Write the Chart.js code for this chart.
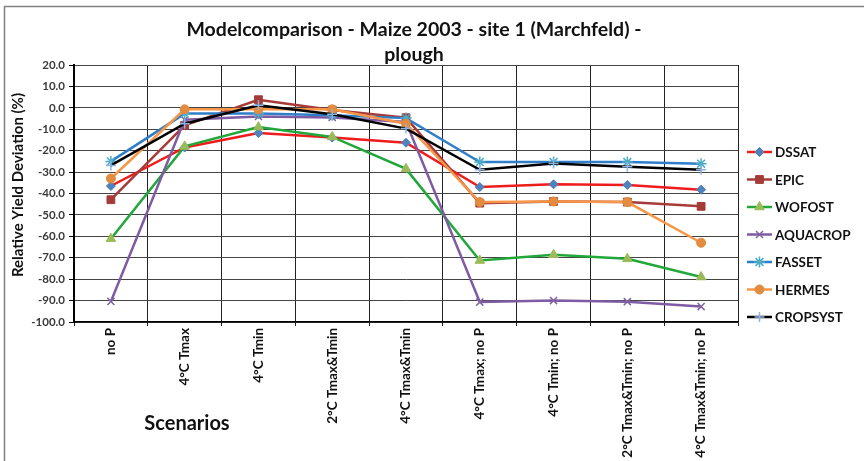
<!DOCTYPE html>
<html>
<head>
<meta charset="utf-8">
<script src="https://cdn.jsdelivr.net/npm/chart.js@4.4.1/dist/chart.umd.min.js"></script>
<style>
  body { margin: 0; background: #fff; }
  #wrap { width: 864px; height: 461px; }
</style>
</head>
<body>
<div id="wrap"><canvas id="myChart" width="864" height="461"></canvas></div>
<script>
// scenarios on the x axis
var scenarios = ["no P", "4°C Tmax", "4°C Tmin", "2°C Tmax&Tmin", "4°C Tmax&Tmin",
  "4°C Tmax; no P", "4°C Tmin; no P", "2°C Tmax&Tmin; no P", "4°C Tmax&Tmin; no P"];

// relative yield deviation (%) per model
var dssat    = [-36.5, -18.5, -11.8, -13.9, -16.3, -37.0, -35.7, -36.0, -38.2];
var epic     = [-42.9, -8.2, 3.8, -1.0, -4.6, -44.5, -43.7, -44.0, -46.0];
var wofost   = [-61.1, -18.0, -9.0, -13.6, -28.5, -71.3, -68.6, -70.5, -79.0];
var aquacrop = [-90.4, -5.6, -4.0, -4.5, -6.6, -90.7, -90.0, -90.5, -92.8];
var fasset   = [-25.0, -2.7, -2.7, -3.5, -4.8, -25.3, -25.3, -25.3, -26.1];
var hermes   = [-33.0, -0.7, -0.7, -0.7, -7.4, -44.0, -43.7, -44.0, -63.0];
var cropsyst = [-26.9, -7.4, 1.2, -3.0, -9.7, -28.9, -26.0, -27.5, -28.9];

var yTicks = { min: -100, max: 20, step: 10 };

var FONT = "Lato, 'Liberation Sans', sans-serif";

function series(label, values, line, marker, style, radius) {
  return {
    label: label,
    data: values,
    borderColor: line,
    backgroundColor: marker,
    borderWidth: 2.5,
    pointStyle: style,
    pointRadius: radius,
    pointBorderColor: marker,
    pointBackgroundColor: marker,
    pointBorderWidth: (style === 'crossRot' || style === 'cross' || style === 'star') ? 1.5 : 1,
    tension: 0
  };
}

var datasets = [
  series("DSSAT", dssat, "#ee1c1c", "#4f81bd", "rectRot", 4.5),
  series("EPIC", epic, "#a63c3a", "#a33b38", "rect", 5.5),
  series("WOFOST", wofost, "#22a83a", "#9bbb59", "triangle", 5.5),
  series("AQUACROP", aquacrop, "#7f5ba3", "#8064a2", "crossRot", 5),
  series("FASSET", fasset, "#2f7ec9", "#4bacc6", "star", 5.5),
  series("HERMES", hermes, "#f79646", "#e38b3e", "circle", 4.5),
  series("CROPSYST", cropsyst, "#000000", "#8eb4e3", "cross", 5)
];
// later series on top, like the original
datasets.forEach(function (d, i) { d.order = datasets.length - i; });

var decorations = {
  id: 'decorations',
  beforeDraw: function (chart) {
    var ctx = chart.ctx;
    ctx.save();
    ctx.fillStyle = "#ffffff";
    ctx.fillRect(0, 0, chart.width, chart.height);
    ctx.strokeStyle = "#7f7f7f";
    ctx.lineWidth = 1.5;
    ctx.beginPath();
    ctx.moveTo(4.5, chart.height);
    ctx.lineTo(4.5, 6.5);
    ctx.lineTo(chart.width, 6.5);
    ctx.stroke();
    ctx.restore();
  },
  afterDraw: function (chart) {
    var ctx = chart.ctx;
    ctx.save();
    // title
    ctx.fillStyle = "#111";
    ctx.font = "bold 19.5px " + FONT;
    ctx.textAlign = "center";
    ctx.textBaseline = "middle";
    ctx.fillText("Modelcomparison - Maize 2003 - site 1 (Marchfeld) -", 414, 30);
    ctx.fillText("plough", 414, 55);

    // axis captions
    ctx.font = "bold 20px " + FONT;
    ctx.fillText("Scenarios", 187, 424);

    ctx.save();
    ctx.translate(18, 185);
    ctx.rotate(-Math.PI / 2);
    ctx.font = "bold 15px " + FONT;
    ctx.fillText("Relative Yield Deviation (%)", 0, 0);
    ctx.restore();

    // legend
    var y = 152;
    chart.data.datasets.forEach(function (ds) {
      ctx.strokeStyle = ds.borderColor;
      ctx.lineWidth = 2.5;
      ctx.beginPath();
      ctx.moveTo(747, y);
      ctx.lineTo(772, y);
      ctx.stroke();
      ctx.fillStyle = ds.pointBackgroundColor;
      ctx.strokeStyle = ds.pointBorderColor;
      ctx.lineWidth = ds.pointBorderWidth;
      Chart.helpers.drawPoint(ctx, {
        pointStyle: ds.pointStyle,
        radius: ds.pointRadius,
        rotation: 0,
        borderWidth: ds.pointBorderWidth
      }, 759.5, y);
      ctx.fillStyle = "#111";
      ctx.font = "bold 13.5px " + FONT;
      ctx.textAlign = "left";
      ctx.fillText(ds.label, 775, y + 1);
      y += 27.5;
    });
    ctx.restore();
  }
};

var ctx = document.getElementById("myChart").getContext('2d');

var myChart = new Chart(ctx, {
  type: 'line',
  data: { labels: scenarios, datasets: datasets },
  plugins: [decorations],
  options: {
    responsive: false,
    animation: false,
    devicePixelRatio: 1,
    layout: { padding: { top: 65, right: 126, left: 0, bottom: 0 } },
    plugins: {
      legend: { display: false },
      title: { display: false },
      tooltip: { enabled: false }
    },
    scales: {
      x: {
        offset: true,
        grid: { offset: true, color: "#222", lineWidth: 1, drawTicks: true, tickLength: 4, tickColor: "#222" },
        border: { color: "#000", width: 1.5 },
        ticks: {
          minRotation: 90,
          maxRotation: 90,
          autoSkip: false,
          padding: 2,
          color: "#111",
          font: { family: FONT, size: 13.5, weight: "bold" }
        },
        afterFit: function (scale) { scale.height = 139; }
      },
      y: {
        min: yTicks.min,
        max: yTicks.max,
        grid: { color: "#444", lineWidth: 1, drawTicks: true, tickLength: 5, tickColor: "#000" },
        border: { color: "#000", width: 2 },
        ticks: {
          stepSize: yTicks.step,
          padding: 4,
          color: "#3a3a3a",
          font: { family: FONT, size: 11.5, weight: "bold" },
          callback: function (v) { return v.toFixed(1); }
        },
        afterFit: function (scale) { scale.width = 74; }
      }
    }
  }
});
</script>
</body>
</html>
